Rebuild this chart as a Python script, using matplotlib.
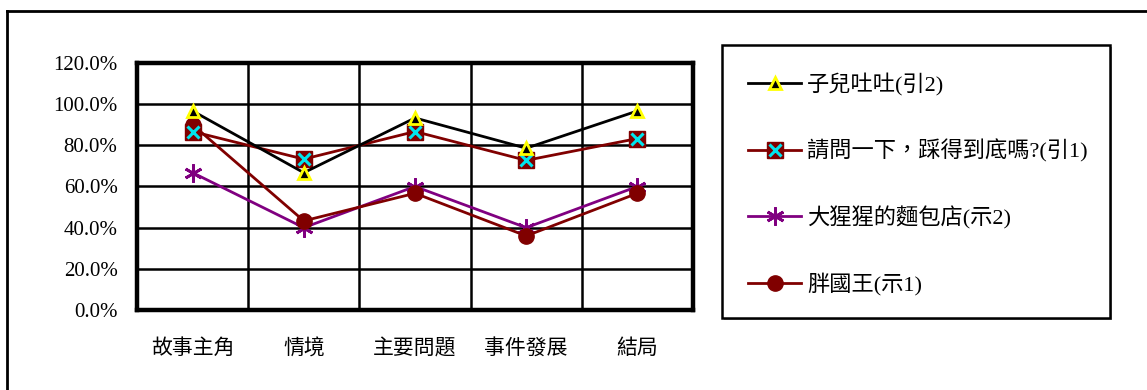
#!/usr/bin/env python

""" Line chart of four picture books across five story elements. """

import matplotlib
matplotlib.use("Agg")
import matplotlib.pyplot as plt
from matplotlib.lines import Line2D
from matplotlib.patches import Rectangle
from matplotlib.legend_handler import HandlerTuple
from matplotlib.ticker import FuncFormatter, MultipleLocator

plt.rcParams['font.family'] = ['Liberation Serif', 'Noto Sans CJK TC']

# Data (fractions)
categories = ["故事主角", "情境", "主要問題", "事件發展", "結局"]
series_names = ["子兒吐吐(引2)", "請問一下，踩得到底嗎?(引1)",
                "大猩猩的麵包店(示2)", "胖國王(示1)"]
zierTutu = [0.967, 0.667, 0.933, 0.786, 0.967]
qingwen = [0.867, 0.733, 0.867, 0.727, 0.833]
dasingxing = [0.667, 0.400, 0.600, 0.400, 0.600]
pangguowang = [0.900, 0.433, 0.567, 0.360, 0.567]

W, H = 1147, 390
fig = plt.figure(figsize=(W / 100, H / 100), dpi=100)

# Axes placed in pixel coordinates of the reference
ax = fig.add_axes([137 / W, 1 - 310 / H, 556 / W, 247 / H])
x = range(len(categories))

maroon = "#800000"
purple = "#800080"

l1, = ax.plot(x, zierTutu, color="black", lw=2, marker="^", ms=8,
              mfc="black", mec="yellow", mew=2, zorder=5)
l2, = ax.plot(x, qingwen, color=maroon, lw=2, marker="s", ms=11,
              mfc=maroon, mec=maroon, zorder=4)
l2x, = ax.plot(x, qingwen, ls="none", marker="x", ms=9, mec="#00e5ee",
               mew=2.2, zorder=4)
l3, = ax.plot(x, dasingxing, color=purple, lw=2, marker=(6, 2, 0), ms=13,
              mec=purple, mew=2, zorder=3)
l4, = ax.plot(x, pangguowang, color=maroon, lw=2, marker="o", ms=11,
              mfc=maroon, mec=maroon, zorder=3)

ax.set_xlim(-0.5, len(categories) - 0.5)
ax.set_ylim(0, 1.2)
ax.yaxis.set_major_locator(MultipleLocator(0.2))
ax.yaxis.set_major_formatter(FuncFormatter(lambda v, p: "%.1f%%" % (v * 100)))
ax.set_xticks(list(x))
ax.set_xticklabels(categories)
ax.set_xticks([i + 0.5 for i in range(len(categories) - 1)], minor=True)

ax.grid(True, which="major", axis="y", color="black", lw=1.8)
ax.grid(True, which="minor", axis="x", color="black", lw=1.8)
ax.set_axisbelow(True)
ax.tick_params(axis="both", which="both", length=0)
ax.tick_params(axis="y", labelsize=15, pad=14)
ax.tick_params(axis="x", labelsize=15, pad=21)
for s in ax.spines.values():
    s.set_linewidth(3.2)

# Legend box
fig.patches.append(Rectangle((724 / W, 1 - 320 / H), 388 / W, 273 / H,
                             transform=fig.transFigure, fc="#a0a0a0",
                             ec="none", zorder=0))
fig.patches.append(Rectangle((722 / W, 1 - 318 / H), 388 / W, 273 / H,
                             transform=fig.transFigure, fc="white",
                             ec="black", lw=1.8, zorder=1))
leg = fig.legend([l1, (l2, l2x), l3, l4], series_names,
                 loc="upper left", bbox_to_anchor=(728 / W, 1 - 53 / H),
                 frameon=False, fontsize=16, handlelength=2.4,
                 handletextpad=0.25, labelspacing=1.95,
                 handler_map={tuple: HandlerTuple(ndivide=1, pad=0)})

# Outer chart border (right and bottom fall outside the image)
fig.add_artist(Line2D([7 / W, 7 / W], [0, 1 - 11 / H], color="black", lw=2,
                      transform=fig.transFigure))
fig.add_artist(Line2D([7 / W, 1], [1 - 11 / H, 1 - 11 / H], color="black",
                      lw=2, transform=fig.transFigure))

fig.savefig("out.png", dpi=100)
